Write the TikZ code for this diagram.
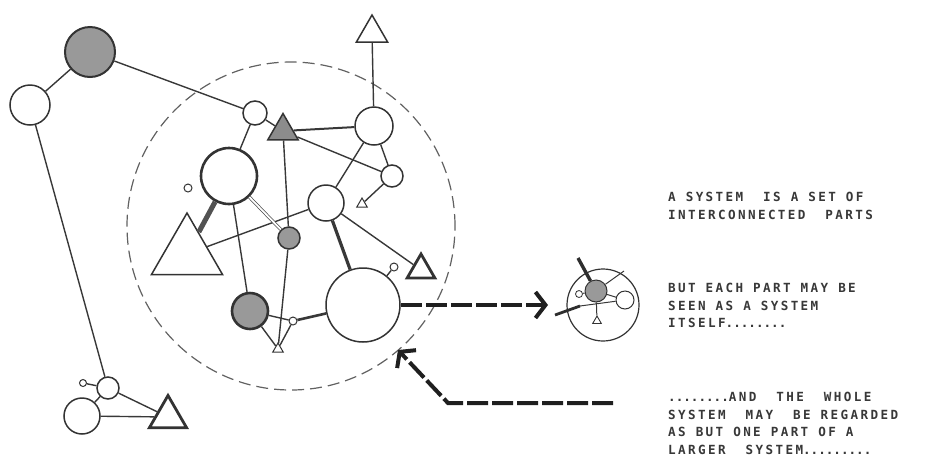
\documentclass[tikz,border=0pt]{standalone}
\usepackage{fontspec}
\usetikzlibrary{shapes.geometric,arrows.meta}
\newfontfamily\notefont[LetterSpace=19]{DejaVu Sans Mono}

\tikzset{
  part/.style={circle,draw=black!80,fill=white,line width=1.5pt,inner sep=0pt},
  grey part/.style={part,fill=black!40},
  tri/.style={regular polygon,regular polygon sides=3,draw=black!80,fill=white,line width=1.5pt,inner sep=0pt},
  link/.style={draw=black!78,line width=1.4pt},
  flow/.style={draw=black!88,line width=4pt,dash pattern=on 21pt off 4pt,
    -{Straight Barb[length=10pt,width=26pt,line width=4pt]}},
  note/.style={anchor=north west,align=left,inner sep=0pt,text=black!78,
    font=\notefont\bfseries\fontsize{12.6}{17.6}\selectfont},
}

\begin{document}
\begin{tikzpicture}[x=1pt,y=-1pt]
  \useasboundingbox (0,0) rectangle (925,456);

  % the whole system
  \node[circle,draw=black!62,line width=1.2pt,dash pattern=on 12pt off 6pt,minimum size=328pt] (whole) at (291,226) {};

  % parts outside
  \node[grey part,minimum size=50pt,line width=2pt] (g1) at (90,52) {};
  \node[part,minimum size=40pt] (w1) at (30,105) {};
  \node[part,minimum size=22pt] (b1) at (108,388) {};
  \node[part,minimum size=7pt,line width=1pt] (t1) at (83,383) {};
  \node[part,minimum size=36pt] (b2) at (82,416) {};
  \node[tri,minimum size=43pt,line width=2.8pt] (tr1) at (168,417) {};
  \node[tri,minimum size=36pt] (trtop) at (372,33) {};

  % parts inside
  \node[part,minimum size=24pt] (s1) at (255,113) {};
  \node[tri,fill=black!45,minimum size=35pt] (trg) at (283,131) {};
  \node[part,minimum size=38pt] (c2) at (374,126) {};
  \node[part,minimum size=22pt] (c3) at (392,176) {};
  \node[tri,minimum size=12pt,line width=1pt] (tt1) at (362,204) {};
  \node[part,minimum size=36pt] (c4) at (326,203) {};
  \node[part,minimum size=56pt,line width=2.6pt] (c5) at (229,176) {};
  \node[part,minimum size=8pt,line width=1pt] (t2) at (188,188) {};
  \node[tri,minimum size=82pt] (tr2) at (187,254) {};
  \node[grey part,minimum size=22pt] (g2) at (289,238) {};
  \node[grey part,minimum size=36pt,line width=2.6pt] (g3) at (250,311) {};
  \node[tri,minimum size=12pt,line width=1pt] (tt2) at (278,349) {};
  \node[part,minimum size=8pt,line width=1pt] (t3) at (293,321) {};
  \node[part,minimum size=74pt] (c6) at (363,305) {};
  \node[part,minimum size=8pt,line width=1pt] (t4) at (394,267) {};
  \node[tri,minimum size=32pt,line width=2.8pt] (tr3) at (421,270) {};

  \foreach \a/\b in {g1/w1,g1/s1,w1/b1,b1/t1,b1/tr1,b1/b2,b2/tr1,s1/trg,s1/c5,
                     trtop/c2,c2/c3,trg/c3,c3/tt1,c2/c4,trg/g2,g2/tt2,c5/g3,
                     tr2/c4,c4/tr3,g3/t3,g3/tt2,t3/tt2,c6/t4}
    \draw[link] (\a) -- (\b);
  \draw[link,line width=2pt] (trg) -- (c2);
  \draw[link,line width=3.2pt] (c4) -- (c6);
  \draw[link,line width=2.6pt] (t3) -- (c6);
  \draw[black!68,line width=5pt] (c5) -- (tr2);
  \draw[black!72,line width=0.7pt,double=white,double distance=1.8pt] (c5) -- (g2);

  % the part seen as a system
  \node[part,minimum size=72pt,line width=1.2pt] (sys) at (603,305) {};
  \node[grey part,minimum size=22pt,line width=1pt] (sg) at (596,291) {};
  \node[part,minimum size=18pt,line width=1pt] (sw) at (625,300) {};
  \node[part,minimum size=7pt,line width=0.8pt] (sc) at (579,294) {};
  \node[tri,minimum size=10pt,line width=0.9pt] (st) at (597,321) {};
  \coordinate (sa) at (578,258);
  \coordinate (sb) at (555,315);
  \coordinate (sd) at (580,306);
  \coordinate (se) at (624,271);
  \draw[black!82,line width=3.4pt] (sa) -- (sg);
  \draw[black!82,line width=2.8pt] (sb) -- (sd);
  \draw[black!78,line width=1pt] (sd) -- (sw);
  \draw[black!78,line width=1pt] (sg) -- (se) (sg) -- (st) (sc) -- (sg) (sg) -- (sw);

  % arrows
  \coordinate (tip1) at (548,305);
  \draw[flow] (c6) -- (tip1);
  \coordinate (tail2) at (613,403);
  \coordinate (bend2) at (448,403);
  \coordinate (tip2) at (398,350);
  \draw[flow] (tail2) -- (bend2) -- (tip2);

  % texts
  \node[note] (txt1) at (668,192) {A SYSTEM\ \ IS A SET OF\\INTERCONNECTED\ \ PARTS};
  \node[note] (txt2) at (668,283) {BUT EACH PART MAY BE\\SEEN AS A SYSTEM\\ITSELF{\addfontfeatures{LetterSpace=0}........}};
  \node[note] (txt3) at (668,392) {{\addfontfeatures{LetterSpace=0}........}AND\ \ THE\ \ WHOLE\\SYSTEM\ \ MAY\ \ BE REGARDED\\AS BUT ONE PART OF A\\LARGER\ \ SYSTEM{\addfontfeatures{LetterSpace=0}.........}};
\end{tikzpicture}
\end{document}
